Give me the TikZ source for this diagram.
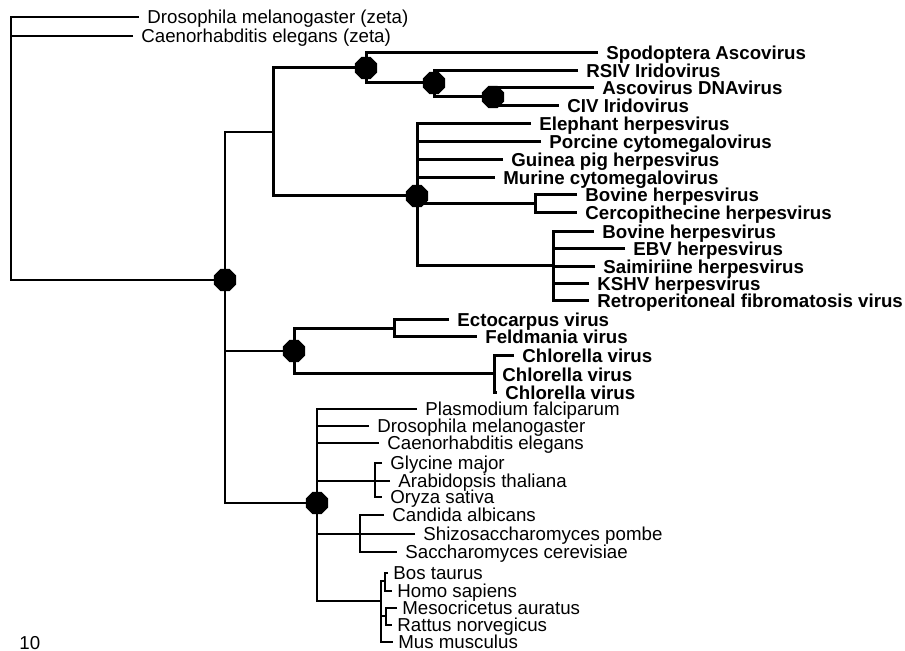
\documentclass[tikz,border=0pt]{standalone}
\usepackage{fontspec}
\setmainfont{Liberation Sans}
\usetikzlibrary{shapes}
\tikzstyle{knot}=[regular polygon,regular polygon sides=8,fill=black,draw=none,
inner sep=0pt,minimum size=12pt]
\tikzstyle{leaf}=[anchor=west,inner xsep=4pt,inner ysep=0pt,text height=6.7pt,text depth=0pt,
font=\fontsize{9.35}{11}\selectfont]
\tikzstyle{vleaf}=[leaf,font=\fontsize{9.35}{11}\selectfont\bfseries]
\tikzstyle{twig}=[line width=0.6pt]
\tikzstyle{bough}=[line width=1.5pt]

\begin{document}
\begin{tikzpicture}[x=0.5pt,y=-0.5pt]
        \useasboundingbox (0,0) rectangle (905,651);
        \node [style=leaf] (dz) at (139,17) {Drosophila melanogaster (zeta)};
        \node [style=leaf] (cz) at (133,36) {Caenorhabditis elegans (zeta)};
        \node [style=knot] (n0) at (225,280) {};
        \coordinate (r) at (11,280);
        \coordinate (a) at (273,132);
        \node [style=knot] (n1) at (366,68) {};
        \node [style=knot] (n2) at (434,83) {};
        \node [style=knot] (n3) at (493,97) {};
        \node [style=vleaf] (sp) at (598,53) {Spodoptera Ascovirus};
        \node [style=vleaf] (rs) at (578,71) {RSIV Iridovirus};
        \node [style=vleaf] (as) at (594,88) {Ascovirus DNAvirus};
        \node [style=vleaf] (ci) at (559,106) {CIV Iridovirus};
        \node [style=knot] (nh) at (417,196) {};
        \coordinate (hb) at (535,204);
        \coordinate (hg) at (553,266);
        \node [style=vleaf] (el) at (531,124) {Elephant herpesvirus};
        \node [style=vleaf] (po) at (541,142) {Porcine cytomegalovirus};
        \node [style=vleaf] (gp) at (503,160) {Guinea pig herpesvirus};
        \node [style=vleaf] (mu) at (495,178) {Murine cytomegalovirus};
        \node [style=vleaf] (bh) at (577,195) {Bovine herpesvirus};
        \node [style=vleaf] (cp) at (577,213) {Cercopithecine herpesvirus};
        \node [style=vleaf] (bg) at (594,232) {Bovine herpesvirus};
        \node [style=vleaf] (eb) at (625,249) {EBV herpesvirus};
        \node [style=vleaf] (sm) at (595,267) {Saimiriine herpesvirus};
        \node [style=vleaf] (ks) at (589,284) {KSHV herpesvirus};
        \node [style=vleaf] (rf) at (589,301) {Retroperitoneal fibromatosis virus};
        \node [style=knot] (nb) at (294,351) {};
        \coordinate (be) at (394,329);
        \coordinate (bc) at (494,374);
        \node [style=vleaf] (ec) at (449,320) {Ectocarpus virus};
        \node [style=vleaf] (fm) at (477,337) {Feldmania virus};
        \node [style=vleaf] (cv1) at (514,356) {Chlorella virus};
        \node [style=vleaf] (cv2) at (494,375) {Chlorella virus};
        \node [style=vleaf] (cv3) at (497,393) {Chlorella virus};
        \node [style=knot] (nc) at (317,503) {};
        \coordinate (cpl) at (375,481);
        \coordinate (cy) at (360,534);
        \coordinate (cm) at (381,601);
        \coordinate (mb) at (385,581);
        \coordinate (mr) at (386,616);
        \node [style=leaf] (pf) at (417,409) {Plasmodium falciparum};
        \node [style=leaf] (dm) at (369,426) {Drosophila melanogaster};
        \node [style=leaf] (ce) at (379,443) {Caenorhabditis elegans};
        \node [style=leaf] (gm) at (382,463) {Glycine major};
        \node [style=leaf] (ath) at (390,481) {Arabidopsis thaliana};
        \node [style=leaf] (os) at (382,497) {Oryza sativa};
        \node [style=leaf] (cal) at (384,515) {Candida albicans};
        \node [style=leaf] (spo) at (415,534) {Shizosaccharomyces pombe};
        \node [style=leaf] (sce) at (397,552) {Saccharomyces cerevisiae};
        \node [style=leaf,inner xsep=2.5pt] (bt) at (388,573) {Bos taurus};
        \node [style=leaf,inner xsep=2.5pt] (hs) at (392,591) {Homo sapiens};
        \node [style=leaf,inner xsep=2.5pt] (ma) at (397,608) {Mesocricetus auratus};
        \node [style=leaf,inner xsep=2.5pt] (rn) at (392,625) {Rattus norvegicus};
        \node [style=leaf,inner xsep=2.5pt] (mm) at (393,642) {Mus musculus};
        \node [style=leaf,inner xsep=0pt] (sc) at (19,643) {10};
        \draw [style=twig] (dz.west) -| (r) -- (n0);
        \draw [style=twig] (cz.west) -- (cz.west -| r);
        \draw [style=twig] (a) -| (n0.center) |- (nc);
        \draw [style=twig] (n0.center) |- (nb);
        \draw [style=bough] (n1) -| (a) |- (nh);
        \draw [style=bough] (sp.west) -| (n1.center) |- (n2);
        \draw [style=bough] (rs.west) -| (n2.center) |- (n3);
        \draw [style=bough] (as.west) -| (n3.center) |- (ci.west);
        \draw [style=bough] (el.west) -| (nh.center) |- (hg);
        \draw [style=bough] (po.west) -- (po.west -| nh);
        \draw [style=bough] (gp.west) -- (gp.west -| nh);
        \draw [style=bough] (mu.west) -- (mu.west -| nh);
        \draw [style=bough] (nh.center) |- (hb);
        \draw [style=bough] (bh.west) -| (hb) |- (cp.west);
        \draw [style=bough] (bg.west) -| (hg) |- (rf.west);
        \draw [style=bough] (eb.west) -- (eb.west -| hg);
        \draw [style=bough] (sm.west) -- (sm.west -| hg);
        \draw [style=bough] (ks.west) -- (ks.west -| hg);
        \draw [style=bough] (be) -| (nb.center) |- (bc);
        \draw [style=bough] (ec.west) -| (be) |- (fm.west);
        \draw [style=bough] (cv1.west) -| (bc) |- (cv3.west);
        \draw [style=twig] (pf.west) -| (nc.center) |- (cm);
        \draw [style=twig] (dm.west) -- (dm.west -| nc);
        \draw [style=twig] (ce.west) -- (ce.west -| nc);
        \draw [style=twig] (ath.west) -- (ath.west -| nc);
        \draw [style=twig] (gm.west) -| (cpl) |- (os.west);
        \draw [style=twig] (spo.west) -- (spo.west -| nc);
        \draw [style=twig] (cal.west) -| (cy) |- (sce.west);
        \draw [style=twig] (mb) -| (cm) |- (mm.west);
        \draw [style=twig] (mr) -- (mr -| cm);
        \draw [style=twig] (bt.west) -| (mb) |- (hs.west);
        \draw [style=twig] (ma.west) -| (mr) |- (rn.west);
    \end{tikzpicture}
\end{document}
